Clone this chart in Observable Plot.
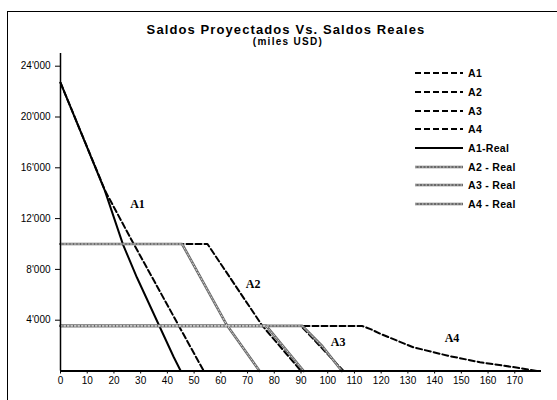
<!DOCTYPE html>
<html>
<head>
<meta charset="utf-8">
<script src="https://cdn.jsdelivr.net/npm/d3@7"></script>
<script src="https://cdn.jsdelivr.net/npm/@observablehq/plot@0.6"></script>
<style>
  html, body { margin: 0; padding: 0; background: #fff; }
  #wrap { position: relative; width: 557px; height: 400px; overflow: hidden; font-family: "Liberation Sans", Arial, sans-serif; }
  #border { position: absolute; left: 7px; top: 11px; width: 560px; height: 400px; border-left: 1.6px solid #000; border-top: 1.6px solid #000; }
  #title { position: absolute; left: 0; top: 23px; width: 572px; text-align: center; font-weight: bold; font-size: 13px; line-height: 13px; letter-spacing: 1.1px; color: #000; }
  #subtitle { position: absolute; left: 0; top: 36.5px; width: 576px; text-align: center; font-weight: bold; font-size: 10px; line-height: 10px; letter-spacing: 1.3px; color: #000; }
  #chart { position: absolute; left: 0; top: 0; }
  #legend { position: absolute; left: 414px; top: 64px; }
  .lrow { display: flex; align-items: center; height: 18.7px; }
  .lrow span { font-weight: bold; font-size: 10.5px; margin-left: 4px; color: #000; letter-spacing: 0.3px; }
</style>
</head>
<body>
<div id="wrap">
  <div id="border"></div>
  <div id="chart"></div>
  <div id="title">Saldos Proyectados Vs. Saldos Reales</div>
  <div id="subtitle">(miles USD)</div>
  <div id="legend"></div>
</div>
<script>
// ---- Data ----
const seriesNames = ["A1", "A2", "A3", "A4", "A1-Real", "A2 - Real", "A3 - Real", "A4 - Real"];

// Projected balances
const a1X = [0, 16.8, 26.8, 53.6];
const a1Y = [22700, 14150, 10235, 0];
const a2X = [0, 55, 75.4, 90];
const a2Y = [10000, 10000, 3600, 0];
const a3X = [0, 90, 105.9];
const a3Y = [3550, 3550, 0];
const a4X = [0, 112.8, 116, 120, 132, 145, 157, 170, 178.5];
const a4Y = [3550, 3550, 3300, 2900, 1870, 1200, 690, 290, 0];

// Real balances
const a1rX = [0, 16.6, 23.4, 28.6, 42.4, 45];
const a1rY = [22700, 14200, 9950, 7360, 1080, 0];
const a2rX = [0, 45.5, 62.3, 74.5];
const a2rY = [10000, 10000, 3600, 0];
const a3rX = [0, 77, 91];
const a3rY = [3550, 3550, 0];
const a4rX = [0, 90.5, 98, 105.3];
const a4rY = [3550, 3550, 1950, 0];

// Axis ticks
const yTicks = [4000, 8000, 12000, 16000, 20000, 24000];
const xTicks = d3.range(0, 171, 10);

// In-chart labels
const labelText = ["A1", "A2", "A3", "A4"];
const labelX = [28.8, 72.1, 103.9, 146.5];
const labelY = [13140, 6860, 2310, 2550];

// ---- Build tidy tables ----
const groups = [
  {name: "A1", kind: "proj", x: a1X, y: a1Y},
  {name: "A2", kind: "proj", x: a2X, y: a2Y},
  {name: "A3", kind: "proj", x: a3X, y: a3Y},
  {name: "A4", kind: "proj", x: a4X, y: a4Y},
  {name: "A1-Real", kind: "real1", x: a1rX, y: a1rY},
  {name: "A2 - Real", kind: "realg", x: a2rX, y: a2rY},
  {name: "A3 - Real", kind: "realg", x: a3rX, y: a3rY},
  {name: "A4 - Real", kind: "realg", x: a4rX, y: a4rY}
];
const rows = groups.flatMap(g => g.x.map((x, i) => ({name: g.name, kind: g.kind, x, y: g.y[i]})));
const labels = labelText.map((t, i) => ({t, x: labelX[i], y: labelY[i]}));

const fmt = d => d3.format(",")(d).replace(/,/g, "'");

const styles = {
  proj: {stroke: "#000", strokeWidth: 2, strokeDasharray: "6,3"},
  real1: {stroke: "#000", strokeWidth: 2},
  realg: {stroke: "#6a6a6a", strokeWidth: 2.6}
};

const chart = Plot.plot({
  width: 557,
  height: 400,
  marginLeft: 60,
  marginRight: 16,
  marginTop: 53,
  marginBottom: 29.5,
  style: {fontFamily: "'Liberation Sans', Arial, sans-serif", fontSize: "10px", color: "#000", background: "transparent"},
  x: {domain: [0, 180]},
  y: {domain: [0, 25000]},
  marks: [
    Plot.axisY({ticks: yTicks, tickFormat: fmt, tickSize: 5, tickPadding: 5, label: null, fontSize: 10, style: {letterSpacing: "0.7px"}}),
    Plot.axisX({ticks: xTicks, tickSize: 3, tickPadding: 3, label: null, fontSize: 10, style: {letterSpacing: "0.3px"}}),
    Plot.line(rows.filter(d => d.kind === "proj"), {x: "x", y: "y", z: "name", ...styles.proj}),
    Plot.line(rows.filter(d => d.kind === "real1"), {x: "x", y: "y", z: "name", ...styles.real1}),
    Plot.line(rows.filter(d => d.kind === "realg"), {x: "x", y: "y", z: "name", ...styles.realg}),
    Plot.line(rows.filter(d => d.kind === "realg"), {x: "x", y: "y", z: "name", stroke: "#eee", strokeWidth: 0.8, strokeDasharray: "1.5,2"}),
    Plot.ruleY([0], {stroke: "#000", strokeWidth: 2}),
    Plot.ruleX([0], {stroke: "#000", strokeWidth: 1.5}),
    Plot.text(labels, {x: "x", y: "y", text: "t", fontFamily: "'Liberation Serif', 'DejaVu Serif', serif", fontWeight: "bold", fontSize: 12, fill: "#000"})
  ]
});
document.getElementById("chart").appendChild(chart);

// ---- Legend ----
const legend = document.getElementById("legend");
groups.forEach(g => {
  const st = styles[g.kind];
  const row = document.createElement("div");
  row.className = "lrow";
  let svg = `<svg width="50" height="8"><line x1="1" y1="4" x2="49" y2="4" stroke="${st.stroke}" stroke-width="${st.strokeWidth}" ${st.strokeDasharray ? `stroke-dasharray="${st.strokeDasharray}"` : ""}/>`;
  if (g.kind === "realg") svg += `<line x1="1" y1="4" x2="49" y2="4" stroke="#eee" stroke-width="0.8" stroke-dasharray="1.5,2"/>`;
  svg += `</svg>`;
  row.innerHTML = svg + `<span>${g.name}</span>`;
  legend.appendChild(row);
});
</script>
</body>
</html>
